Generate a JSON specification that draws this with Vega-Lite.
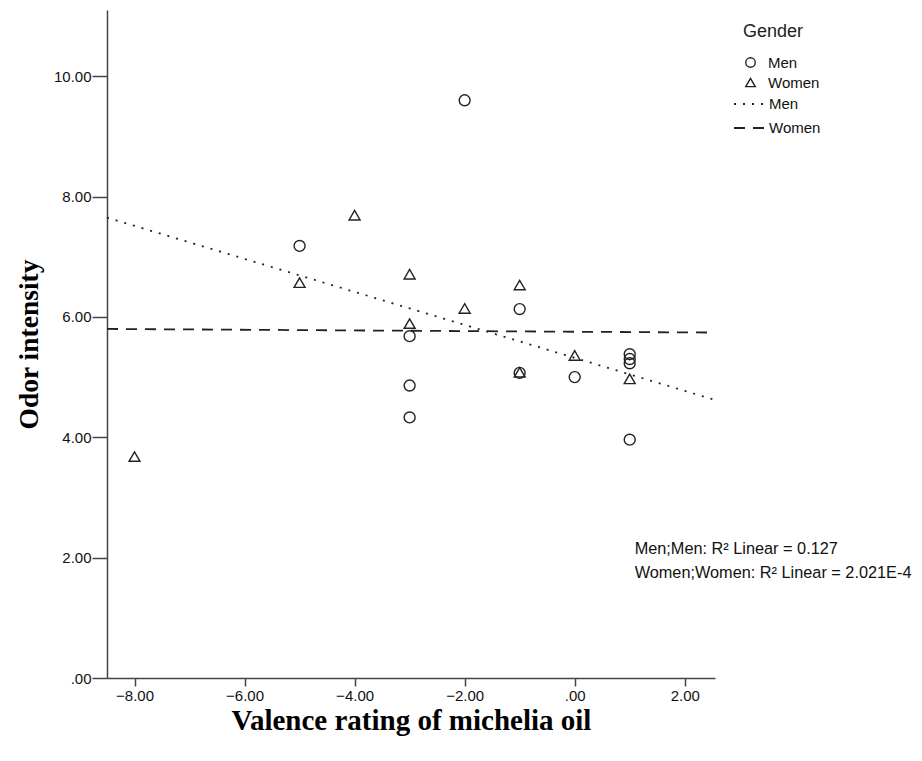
{
  "$schema": "https://vega.github.io/schema/vega-lite/v6.json",
  "width": 608,
  "height": 668,
  "autosize": {"type": "none"},
  "padding": {"left": 107, "top": 10, "right": 207, "bottom": 83},
  "background": "white",
  "config": {
    "view": {"stroke": null},
    "axis": {
      "grid": false,
      "domainColor": "#444444",
      "domainWidth": 1.5,
      "tickColor": "#444444",
      "tickWidth": 1.5,
      "labelFont": "Liberation Sans",
      "labelFontSize": 15,
      "labelColor": "#111111",
      "titleFont": "Liberation Serif",
      "titleFontWeight": "bold",
      "titleColor": "#000000"
    },
    "legend": {
      "labelFont": "Liberation Sans",
      "labelFontSize": 15,
      "labelColor": "#111111",
      "titleFont": "Liberation Sans",
      "titleFontSize": 18,
      "titleFontWeight": "normal",
      "titleColor": "#222222"
    }
  },
  "datasets": {
    "pts": [
      {"valence": -5, "odor": 7.18, "gender": "Men"},
      {"valence": -2, "odor": 9.6, "gender": "Men"},
      {"valence": -3, "odor": 5.68, "gender": "Men"},
      {"valence": -3, "odor": 4.86, "gender": "Men"},
      {"valence": -3, "odor": 4.33, "gender": "Men"},
      {"valence": -1, "odor": 6.13, "gender": "Men"},
      {"valence": -1, "odor": 5.07, "gender": "Men"},
      {"valence": 0, "odor": 5.0, "gender": "Men"},
      {"valence": 1, "odor": 5.38, "gender": "Men"},
      {"valence": 1, "odor": 5.3, "gender": "Men"},
      {"valence": 1, "odor": 5.23, "gender": "Men"},
      {"valence": 1, "odor": 3.96, "gender": "Men"},
      {"valence": -8, "odor": 3.68, "gender": "Women"},
      {"valence": -5, "odor": 6.57, "gender": "Women"},
      {"valence": -4, "odor": 7.69, "gender": "Women"},
      {"valence": -3, "odor": 6.71, "gender": "Women"},
      {"valence": -3, "odor": 5.89, "gender": "Women"},
      {"valence": -2, "odor": 6.14, "gender": "Women"},
      {"valence": -1, "odor": 6.53, "gender": "Women"},
      {"valence": -1, "odor": 5.08, "gender": "Women"},
      {"valence": 0, "odor": 5.36, "gender": "Women"},
      {"valence": 1, "odor": 4.97, "gender": "Women"}
    ],
    "fits": [
      {"valence": -8.5, "odor": 7.65, "fit": "Men fit"},
      {"valence": 2.55, "odor": 4.62, "fit": "Men fit"},
      {"valence": -8.5, "odor": 5.8, "fit": "Women fit"},
      {"valence": 2.55, "odor": 5.74, "fit": "Women fit"}
    ],
    "notes": [
      {"valence": 1.09, "odor": 2.14, "label": "Men;Men: R² Linear = 0.127"},
      {"valence": 1.09, "odor": 1.745, "label": "Women;Women: R² Linear = 2.021E-4"}
    ]
  },
  "layer": [
    {
      "data": {"name": "fits"},
      "mark": {"type": "line", "color": "#222222", "strokeWidth": 1.8},
      "encoding": {
        "x": {"field": "valence", "type": "quantitative"},
        "y": {"field": "odor", "type": "quantitative"},
        "strokeDash": {
          "field": "fit",
          "type": "nominal",
          "scale": {"domain": ["Men fit", "Women fit"], "range": [[2, 7], [11, 8]]},
          "legend": {
            "title": null,
            "orient": "none",
            "legendX": 626,
            "legendY": 78,
            "symbolType": "stroke",
            "symbolSize": 900,
            "symbolStrokeColor": "#222222",
            "symbolStrokeWidth": 1.8,
            "rowPadding": -10,
            "labelOffset": 4,
            "labelExpr": "replace(datum.label, ' fit', '')",
            "padding": 0
          }
        }
      }
    },
    {
      "data": {"name": "pts"},
      "mark": {"type": "point", "filled": false, "color": "#222222", "strokeWidth": 1.4, "size": 120, "opacity": 1},
      "encoding": {
        "x": {
          "field": "valence",
          "type": "quantitative",
          "scale": {"domain": [-8.5, 2.55], "nice": false, "zero": false},
          "axis": {
            "values": [-8, -6, -4, -2, 0, 2],
            "labelExpr": "datum.value == 0 ? '.00' : format(datum.value, '.2f')",
            "tickSize": 8,
            "labelPadding": 2,
            "title": "Valence rating of michelia oil",
            "titleFontSize": 29,
            "titlePadding": 3
          }
        },
        "y": {
          "field": "odor",
          "type": "quantitative",
          "scale": {"domain": [0, 11.1], "nice": false},
          "axis": {
            "values": [0, 2, 4, 6, 8, 10],
            "labelExpr": "datum.value == 0 ? '.00' : format(datum.value, '.2f')",
            "tickSize": 15,
            "labelPadding": 1,
            "title": "Odor intensity",
            "titleFontSize": 27.5,
            "titlePadding": 10
          }
        },
        "shape": {
          "field": "gender",
          "type": "nominal",
          "scale": {"domain": ["Men", "Women"], "range": ["circle", "triangle-up"]},
          "legend": {
            "title": "Gender",
            "orient": "none",
            "legendX": 636,
            "legendY": 13,
            "symbolSize": 90,
            "symbolStrokeColor": "#222222",
            "symbolFillColor": "transparent",
            "symbolStrokeWidth": 1.4,
            "labelOffset": 10,
            "titlePadding": 14,
            "rowPadding": 4,
            "padding": 0
          }
        }
      }
    },
    {
      "data": {"name": "notes"},
      "mark": {"type": "text", "align": "left", "baseline": "middle", "font": "Liberation Sans", "fontSize": 16.3, "color": "#111111"},
      "encoding": {
        "x": {"field": "valence", "type": "quantitative"},
        "y": {"field": "odor", "type": "quantitative"},
        "text": {"field": "label"}
      }
    }
  ]
}
